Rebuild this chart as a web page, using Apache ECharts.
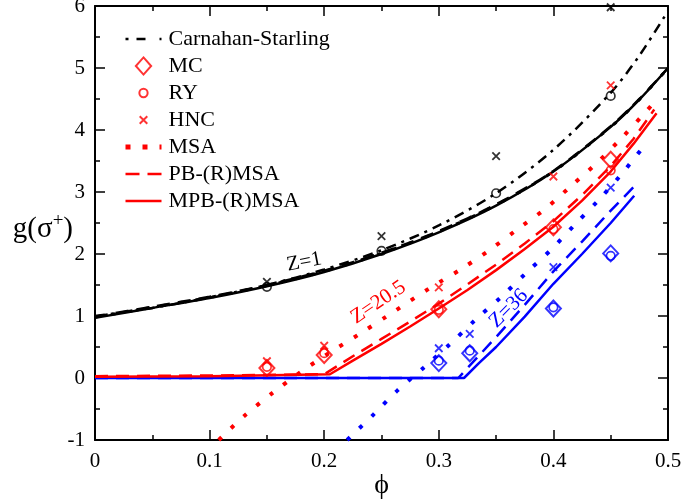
<!DOCTYPE html>
<html><head><meta charset="utf-8">
<script src="https://cdn.jsdelivr.net/npm/echarts@6/dist/echarts.min.js"></script>
<style>html,body{margin:0;padding:0;background:#fff}#c{width:681px;height:500px}</style>
</head><body><div id="c"></div>
<script>
// ---------- data ----------
const xTicks = [0, 0.1, 0.2, 0.3, 0.4, 0.5];
const yTicks = [-1, 0, 1, 2, 3, 4, 5, 6];

// Carnahan-Starling (hard spheres)
const phiCS = [0, 0.05, 0.1, 0.15, 0.2, 0.25, 0.3, 0.35, 0.4, 0.45, 0.475, 0.5];
const gCS   = [1.0, 1.13, 1.3, 1.5, 1.75, 2.06, 2.46, 2.98, 3.68, 4.6, 5.2, 5.92];

// Z = 1 theory curves (black)
const phiZ1 = [0, 0.05, 0.1, 0.15, 0.2, 0.25, 0.3, 0.35, 0.4, 0.45, 0.475, 0.5];
const gMPB1 = [0.97, 1.13, 1.29, 1.48, 1.71, 2.0, 2.35, 2.78, 3.33, 4.05, 4.49, 5.0];
const gPB1  = [0.99, 1.15, 1.31, 1.5, 1.73, 2.02, 2.37, 2.8, 3.34, 4.06, 4.5, 5.0];
const gMSA1 = [0.98, 1.14, 1.3, 1.49, 1.72, 2.01, 2.36, 2.79, 3.33, 4.05, 4.49, 5.0];

// Z = 20.5 theory curves (red)
const phiMSA20 = [0.108, 0.131, 0.155, 0.179, 0.204, 0.230, 0.255, 0.293, 0.319, 0.344, 0.368, 0.393, 0.415, 0.438, 0.460, 0.480, 0.490];
const gMSA20   = [-1.0, -0.6, -0.24, 0.09, 0.40, 0.70, 1.0, 1.46, 1.75, 2.06, 2.39, 2.73, 3.09, 3.47, 3.88, 4.28, 4.49];
const phiPB20  = [0, 0.1, 0.2, 0.225, 0.25, 0.275, 0.3, 0.325, 0.35, 0.375, 0.4, 0.425, 0.45, 0.47, 0.488];
const gPB20    = [0.03, 0.04, 0.06, 0.35, 0.63, 0.91, 1.2, 1.51, 1.83, 2.17, 2.53, 2.95, 3.42, 3.86, 4.33];
const phiMPB20 = [0, 0.1, 0.205, 0.225, 0.25, 0.275, 0.3, 0.325, 0.35, 0.375, 0.4, 0.425, 0.45, 0.47, 0.49];
const gMPB20   = [0.02, 0.03, 0.06, 0.28, 0.55, 0.83, 1.12, 1.42, 1.74, 2.08, 2.44, 2.86, 3.33, 3.78, 4.27];

// Z = 36 theory curves (blue)
const phiMSA36 = [0.22, 0.243, 0.264, 0.287, 0.310, 0.332, 0.354, 0.376, 0.398, 0.419, 0.440, 0.460, 0.479];
const gMSA36   = [-1.0, -0.59, -0.2, 0.17, 0.55, 0.94, 1.30, 1.69, 2.07, 2.48, 2.88, 3.30, 3.74];
const phiPB36  = [0, 0.317, 0.333, 0.35, 0.375, 0.4, 0.425, 0.45, 0.4705];
const gPB36    = [0, 0.0, 0.32, 0.66, 1.18, 1.72, 2.2, 2.7, 3.09];
const phiMPB36 = [0, 0.322, 0.335, 0.35, 0.375, 0.4, 0.425, 0.45, 0.4705];
const gMPB36   = [0, 0.0, 0.24, 0.5, 0.99, 1.52, 2.0, 2.5, 2.94];

// simulation / integral-equation points
const phiPts1  = [0.15, 0.25, 0.35, 0.45];
const gRY1     = [1.47, 2.05, 2.98, 4.55];
const gHNC1    = [1.55, 2.29, 3.58, 5.98];
const phiPts20 = [0.15, 0.2, 0.3, 0.4, 0.45];
const gMC20    = [0.16, 0.37, 1.11, 2.43, 3.52];
const gRY20    = [0.18, 0.40, 1.10, 2.40, 3.35];
const gHNC20   = [0.27, 0.52, 1.46, 3.25, 4.72];
const phiPts36 = [0.3, 0.327, 0.4, 0.45];
const gMC36    = [0.24, 0.40, 1.12, 2.01];
const gRY36    = [0.28, 0.44, 1.14, 1.97];
const gHNC36   = [0.48, 0.71, 1.79, 3.07];

// curve annotations
const annText = ['Z=1', 'Z=20.5', 'Z=36'];
const annPhi  = [0.1826, 0.2472, 0.361];
const annG    = [1.87, 1.22, 1.12];

// ---------- styling ----------
const FONT = '"Liberation Serif","Times New Roman",Times,serif';
const RED = '#ff0000', BLUE = '#0000ff', BLACK = '#000000';
const annColor = [BLACK, RED, BLUE];
const annRot   = [11, 34, 45];
const DOT = [4, 13], DASH = [13, 8], DASHDOT = [10, 6, 3, 6];
const XSYM = 'path://M0,0L8,8M8,0L0,8';

function pairs(xs, ys) { return xs.map((x, i) => [x, ys[i]]); }
function lineS(name, xs, ys, color, type, width, smooth) {
  return { name, type: 'line', data: pairs(xs, ys), symbol: 'none', showSymbol: false,
    smooth: smooth, silent: true, animation: false,
    lineStyle: { color, width, type, cap: 'butt' }, itemStyle: { color } };
}
function ptsS(name, xs, ys, color, kind) {
  const s = { name, type: 'scatter', data: pairs(xs, ys), silent: true, animation: false, z: 5 };
  if (kind === 'MC') { s.symbol = 'diamond'; s.symbolSize = [15, 16]; s.itemStyle = { color: 'transparent', borderColor: color, borderWidth: 2 }; }
  if (kind === 'RY') { s.symbol = 'circle'; s.symbolSize = 8.5; s.itemStyle = { color: 'transparent', borderColor: color, borderWidth: 1.7 }; }
  if (kind === 'HNC') { s.symbol = XSYM; s.symbolSize = 7.5; s.itemStyle = { color: color, borderColor: color, borderWidth: 1.8 }; }
  return s;
}

const series = [
  lineS('Carnahan-Starling', phiCS, gCS, BLACK, DASHDOT, 2.5, 0.3),
  lineS('MPB Z=1', phiZ1, gMPB1, BLACK, 'solid', 2.5, 0.3),
  lineS('PB Z=1', phiZ1, gPB1, BLACK, DASH, 2.5, 0.3),
  lineS('MSA Z=1', phiZ1, gMSA1, BLACK, DOT, 3, 0.3),
  lineS('MSA', phiMSA20, gMSA20, RED, DOT, 4, 0.3),
  lineS('PB-(R)MSA', phiPB20, gPB20, RED, DASH, 2.5, false),
  lineS('MSA Z=36', phiMSA36, gMSA36, BLUE, DOT, 4, 0.3),
  lineS('PB Z=36', phiPB36, gPB36, BLUE, DASH, 2.5, false),
  lineS('MPB Z=36', phiMPB36, gMPB36, BLUE, 'solid', 2.5, false),
  lineS('MPB-(R)MSA', phiMPB20, gMPB20, RED, 'solid', 2.5, false),
  ptsS('MC', phiPts20, gMC20, RED, 'MC'),
  ptsS('RY', phiPts20, gRY20, RED, 'RY'),
  ptsS('HNC', phiPts20, gHNC20, RED, 'HNC'),
  ptsS('MC Z=36', phiPts36, gMC36, BLUE, 'MC'),
  ptsS('RY Z=36', phiPts36, gRY36, BLUE, 'RY'),
  ptsS('HNC Z=36', phiPts36, gHNC36, BLUE, 'HNC'),
  ptsS('RY Z=1', phiPts1, gRY1, BLACK, 'RY'),
  ptsS('HNC Z=1', phiPts1, gHNC1, BLACK, 'HNC')
];

const axisCommon = {
  type: 'value', splitLine: { show: false },
  axisLine: { show: true, onZero: false, lineStyle: { color: BLACK, width: 2 } },
  axisTick: { show: true, inside: true, length: 10, lineStyle: { color: BLACK, width: 1.5 } },
  minorTick: { show: true, splitNumber: 2, length: 5, lineStyle: { color: BLACK, width: 1.5 } },
  minorSplitLine: { show: false }
};
const xFmt = v => (Math.abs(v) < 1e-9 ? '0' : (Math.round(v * 10) / 10).toString());

const legendLine = { itemStyle: { opacity: 0 } };
const option = {
  backgroundColor: '#ffffff',
  animation: false,
  grid: { left: 95, right: 13, top: 6, bottom: 60, containLabel: false, outerBoundsMode: 'none' },
  legend: {
    orient: 'vertical', left: 118, top: 23, itemWidth: 36, itemHeight: 18, itemGap: 5,
    selectedMode: false,
    textStyle: { fontFamily: FONT, fontSize: 22, color: BLACK, padding: [0, 0, 0, 2] },
    data: [
      Object.assign({ name: 'Carnahan-Starling', lineStyle: { width: 2.5, type: [3, 8, 9, 14] } }, legendLine),
      { name: 'MC', icon: 'path://M-10,-10M10,10M0,-9.5L8.5,0L0,9.5L-8.5,0Z' },
      { name: 'RY', icon: 'path://M-5,-5M5,5M0,-2.3A2.3,2.3,0,1,1,0,2.3A2.3,2.3,0,1,1,0,-2.3Z' },
      { name: 'HNC', icon: 'path://M-5,-5M5,5M-2.1,-2.1L2.1,2.1M2.1,-2.1L-2.1,2.1' },
      Object.assign({ name: 'MSA', lineStyle: { width: 5, type: [5, 12] } }, legendLine),
      Object.assign({ name: 'PB-(R)MSA', lineStyle: { width: 2.5, type: [14, 8] } }, legendLine),
      Object.assign({ name: 'MPB-(R)MSA', lineStyle: { width: 2.5, type: 'solid' } }, legendLine)
    ]
  },
  xAxis: [
    Object.assign({}, axisCommon, {
      position: 'bottom', min: xTicks[0], max: xTicks[xTicks.length - 1], interval: 0.1,
      axisLabel: { fontFamily: FONT, fontSize: 21, color: BLACK, margin: 11, formatter: xFmt },
      name: 'ϕ', nameLocation: 'middle', nameGap: 32, nameMoveOverlap: false,
      nameTextStyle: { fontFamily: FONT, fontSize: 28, color: BLACK }
    }),
    Object.assign({}, axisCommon, {
      position: 'top', min: xTicks[0], max: xTicks[xTicks.length - 1], interval: 0.1,
      axisLabel: { show: false }
    })
  ],
  yAxis: [
    Object.assign({}, axisCommon, {
      position: 'left', min: yTicks[0], max: yTicks[yTicks.length - 1], interval: 1,
      axisLabel: { fontFamily: FONT, fontSize: 21, color: BLACK, margin: 10 },
      name: '{a|g(σ}{b|+}{a|)}', nameLocation: 'middle', nameRotate: 0, nameGap: 22, nameMoveOverlap: false,
      nameTextStyle: { align: 'right', padding: [0, 0, -12, 0], rich: {
        a: { fontFamily: FONT, fontSize: 29, color: BLACK },
        b: { fontFamily: FONT, fontSize: 19, color: BLACK, padding: [0, 0, 15, 0] } } }
    }),
    Object.assign({}, axisCommon, {
      position: 'right', min: yTicks[0], max: yTicks[yTicks.length - 1], interval: 1,
      axisLabel: { show: false }
    })
  ],
  series: series
};

const chart = echarts.init(document.getElementById('c'), null, { renderer: 'canvas' });
chart.setOption(option);

const texts = annText.map((t, i) => {
  const p = chart.convertToPixel({ xAxisIndex: 0, yAxisIndex: 0 }, [annPhi[i], annG[i]]);
  return { type: 'text', x: p[0], y: p[1], rotation: annRot[i] * Math.PI / 180, z: 10,
    style: { text: t, fill: annColor[i], font: '21px ' + FONT, align: 'center', verticalAlign: 'middle' } };
});
chart.setOption({ graphic: texts });
</script></body></html>
